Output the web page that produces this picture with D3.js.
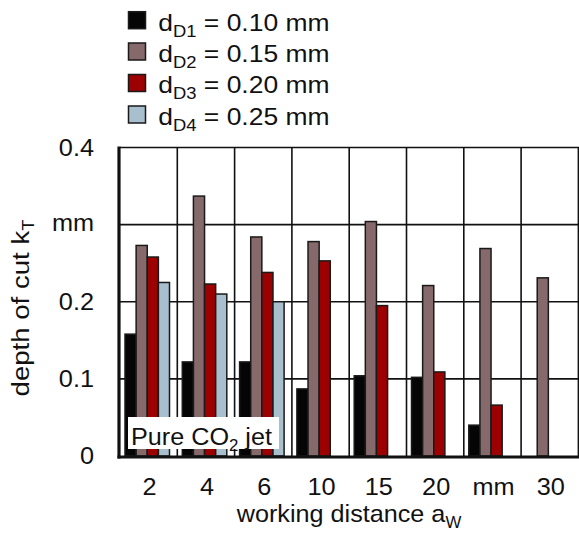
<!DOCTYPE html>
<html>
<head>
<meta charset="utf-8">
<script src="https://cdn.jsdelivr.net/npm/d3@7"></script>
<style>
  html, body { margin: 0; padding: 0; background: #fff; }
  svg { display: block; }
  text { font-family: "Liberation Sans", Arial, sans-serif; fill: #111; }
</style>
</head>
<body>
<svg id="chart" width="579" height="533"></svg>
<script>
// ---- data ----
const categories = ["2", "4", "6", "10", "15", "20", "mm", "30"];
const seriesNames = ["dD1", "dD2", "dD3", "dD4"];
const seriesLabels = ["0.10 mm", "0.15 mm", "0.20 mm", "0.25 mm"];
const seriesSubs = ["D1", "D2", "D3", "D4"];
const dD1 = [0.158, 0.122, 0.122, 0.087, 0.104, 0.102, 0.040, null];
const dD2 = [0.273, 0.337, 0.284, 0.278, 0.304, 0.221, 0.269, 0.231];
const dD3 = [0.258, 0.223, 0.238, 0.253, 0.195, 0.109, 0.066, null];
const dD4 = [0.225, 0.210, 0.200, null, null, null, null, null];
const yTickValues = [0, 0.1, 0.2, 0.3, 0.4];
const yTickLabels = ["0", "0.1", "0.2", "mm", "0.4"];
const colors = ["#050505", "#866a6b", "#9c0000", "#a8bfcd"];

const seriesData = [dD1, dD2, dD3, dD4];

const svg = d3.select("#chart");

const x = d3.scaleBand().domain(categories).range([120, 578.4]).padding(0);
const xs = d3.scaleBand().domain(seriesNames).range([5, 49.5]).padding(0);
const y = d3.scaleLinear().domain([0, 0.4]).range([456, 147.5]);

// helper for horizontally stretched text
function stext(parent, tx, ty, rot, anchor, size, sx) {
  const g = parent.append("g")
    .attr("transform", `translate(${tx},${ty})` + (rot ? ` rotate(${rot})` : "") + ` scale(${sx},1)`);
  return g.append("text").attr("text-anchor", anchor).attr("font-size", size);
}

// ---- gridlines ----
const grid = svg.append("g");
grid.selectAll("line.h").data(yTickValues.filter(v => v > 0)).join("line")
  .attr("x1", 120).attr("x2", 579)
  .attr("y1", d => y(d)).attr("y2", d => y(d))
  .attr("stroke", "#111").attr("stroke-width", 1.6);
const bounds = categories.slice(1).map(c => x(c)).concat([x.range()[1]]);
grid.selectAll("line.v").data(bounds).join("line")
  .attr("x1", d => d).attr("x2", d => d)
  .attr("y1", y(0.4)).attr("y2", y(0))
  .attr("stroke", "#111").attr("stroke-width", 1.6);

// ---- bars ----
const barG = svg.append("g");
seriesData.forEach((arr, si) => {
  barG.selectAll(null)
    .data(arr.map((v, i) => ({ cat: categories[i], v })).filter(d => d.v != null))
    .join("rect")
    .attr("x", d => x(d.cat) + xs(seriesNames[si]))
    .attr("width", xs.bandwidth())
    .attr("y", d => y(d.v))
    .attr("height", d => y(0) - y(d.v))
    .attr("fill", colors[si])
    .attr("stroke", "#1a1a1a")
    .attr("stroke-width", 1.5);
});

// ---- Pure CO2 jet box ----
svg.append("rect").attr("x", 128).attr("y", 417).attr("width", 151).attr("height", 32).attr("fill", "#fff");
{
  const t = stext(svg, 131, 445, 0, "start", 24, 1.05);
  t.append("tspan").text("Pure CO");
  t.append("tspan").attr("font-size", 16).attr("dy", 6).text("2");
  t.append("tspan").attr("dy", -6).text(" jet");
}

// ---- axes lines ----
svg.append("line").attr("x1", 119).attr("x2", 119).attr("y1", 146.5).attr("y2", 458.5)
  .attr("stroke", "#111").attr("stroke-width", 3.2);
svg.append("line").attr("x1", 117.5).attr("x2", 579).attr("y1", 457).attr("y2", 457)
  .attr("stroke", "#111").attr("stroke-width", 3.2);

// ---- y tick labels ----
yTickValues.forEach((v, i) => {
  const lab = yTickLabels[i];
  const off = lab === "mm" ? 6 : 8;
  stext(svg, 94, y(v) + off, 0, "end", 23, 1.1).text(lab);
});

// ---- x tick labels ----
categories.forEach(c => {
  stext(svg, x(c) + x.bandwidth() / 2 + 1, 495, 0, "middle", 23, 1.1).text(c);
});

// ---- axis titles ----
{
  const t = stext(svg, 349, 521.5, 0, "middle", 24, 1.05);
  t.append("tspan").text("working distance a");
  t.append("tspan").attr("font-size", 16).attr("dy", 6).text("W");
}
{
  const t = stext(svg, 28.5, 308, -90, "middle", 24, 1.15);
  t.append("tspan").text("depth of cut k");
  t.append("tspan").attr("font-size", 16).attr("dy", 5).text("T");
}

// ---- legend ----
const legY = [11.7, 43, 74.5, 106];
seriesNames.forEach((s, i) => {
  svg.append("rect").attr("x", 128.5).attr("y", legY[i]).attr("width", 17).attr("height", 17)
    .attr("fill", colors[i]).attr("stroke", "#1a1a1a").attr("stroke-width", 1.5);
  const t = stext(svg, 158.3, legY[i] + 18.8, 0, "start", 23, 1.15);
  t.append("tspan").text("d");
  t.append("tspan").attr("font-size", 16).attr("dy", 6).text(seriesSubs[i]);
  t.append("tspan").attr("dy", -6).text(" = " + seriesLabels[i]);
});
</script>
</body>
</html>
